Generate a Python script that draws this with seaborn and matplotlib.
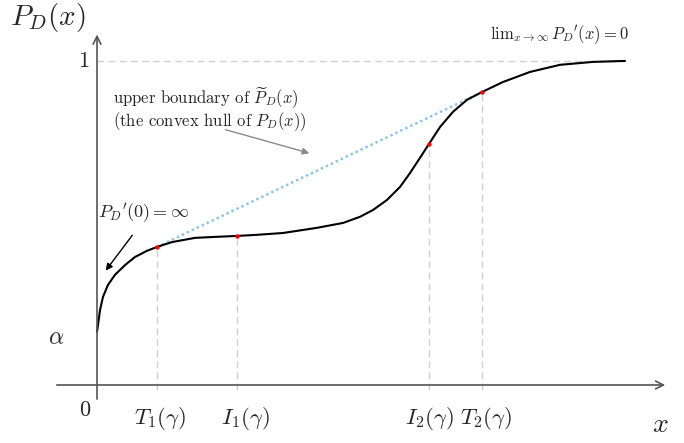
import matplotlib
matplotlib.use("Agg")
import matplotlib.pyplot as plt
import seaborn as sns
import pandas as pd

# ---- data (schematic units) ----
curve_x = [0.00, 0.01, 0.03, 0.06, 0.11, 0.18, 0.28, 0.38, 0.50, 0.60, 0.75, 0.98,
           1.18, 1.40, 1.58, 1.86, 2.20, 2.46, 2.63, 2.76, 2.90, 3.03, 3.13, 3.23,
           3.32, 3.43, 3.56, 3.70, 3.85, 4.06, 4.33, 4.63, 4.96, 5.28]
curve_y = [0.164, 0.185, 0.231, 0.272, 0.309, 0.340, 0.370, 0.395, 0.414, 0.426, 0.441, 0.454,
           0.457, 0.460, 0.463, 0.469, 0.485, 0.500, 0.519, 0.540, 0.571, 0.611, 0.654, 0.701,
           0.744, 0.796, 0.843, 0.880, 0.904, 0.935, 0.966, 0.988, 0.997, 1.000]

key_names = ["$T_1(\\gamma)$", "$I_1(\\gamma)$", "$I_2(\\gamma)$", "$T_2(\\gamma)$"]
key_x = [0.60, 1.40, 3.32, 3.85]
key_y = [0.426, 0.460, 0.744, 0.904]

hull_x = [0.60, 3.85]
hull_y = [0.426, 0.904]

alpha_val = 0.164
one_val = 1.0

sns.set_theme(style="white")
plt.rcParams["mathtext.fontset"] = "cm"
plt.rcParams["font.family"] = ["cmr10", "DejaVu Serif"]
plt.rcParams["axes.unicode_minus"] = False

fig = plt.figure(figsize=(6.84, 4.43), dpi=100)
ax = fig.add_axes([0, 0, 1, 1])

gridc = "#d0d0d0"
# guide lines
ax.plot([0, curve_x[-1]], [one_val, one_val], color=gridc, lw=1.0, ls=(0, (5, 3)), zorder=1)
for kx, ky in zip(key_x, key_y):
    ax.plot([kx, kx], [-0.015, ky], color=gridc, lw=1.0, ls=(0, (5, 3)), zorder=1)

# hull (tangent) line
hull_df = pd.DataFrame({"x": hull_x, "y": hull_y})
sns.lineplot(data=hull_df, x="x", y="y", ax=ax, color="#8cc4ea", lw=1.8,
             linestyle=(0, (1, 1.2)), zorder=2)

# main curve
curve_df = pd.DataFrame({"x": curve_x, "y": curve_y})
sns.lineplot(data=curve_df, x="x", y="y", ax=ax, color="black", lw=1.5, sort=False, zorder=3)

# key points
key_df = pd.DataFrame({"x": key_x, "y": key_y})
sns.scatterplot(data=key_df, x="x", y="y", ax=ax, color="red", s=10, linewidth=0, zorder=4)

ax.set_xlim(-0.97, 5.87)
ax.set_ylim(-0.179, 1.188)
ax.axis("off")

# axes arrows
axc = "#555555"
ax.annotate("", xy=(5.71, 0), xytext=(-0.43, 0),
            arrowprops=dict(arrowstyle="->", color=axc, lw=1.2, mutation_scale=14))
ax.annotate("", xy=(0, 1.090), xytext=(0, -0.052),
            arrowprops=dict(arrowstyle="->", color=axc, lw=1.2, mutation_scale=14))

# texts
ax.text(-0.87, 1.133, "$P_D(x)$", fontsize=21, ha="left", va="center")
ax.text(-0.08, one_val, "1", fontsize=16, ha="right", va="center")
ax.text(-0.33, 0.145, "$\\alpha$", fontsize=17, ha="right", va="center")
ax.text(-0.07, -0.077, "0", fontsize=16, ha="right", va="center")
ax.text(5.63, -0.123, "$x$", fontsize=20, ha="center", va="center")
offs = [0.03, 0.08, 0.0, 0.04]
for name, kx, o in zip(key_names, key_x, offs):
    ax.text(kx + o, -0.102, name, fontsize=16.5, ha="center", va="center")

ax.text(0.16, 0.888, "upper boundary of $\\widetilde{P}_D(x)$", fontsize=12,
        ha="left", va="center")
ax.text(0.16, 0.813, "(the convex hull of $P_D(x)$)", fontsize=12,
        ha="left", va="center")
ax.annotate("", xy=(2.15, 0.713), xytext=(1.26, 0.790),
            arrowprops=dict(arrowstyle="-|>", color="#8a8a8a", lw=1.0, mutation_scale=10))

ax.text(0.01, 0.531, "$P_D{}'(0) = \\infty$", fontsize=13, ha="left", va="center")
ax.annotate("", xy=(0.07, 0.346), xytext=(0.37, 0.469),
            arrowprops=dict(arrowstyle="-|>", color="black", lw=1.0, mutation_scale=10))

ax.text(3.93, 1.080, "$\\mathrm{lim}_{x\\to\\infty}\\, P_D{}'(x) = 0$", fontsize=12,
        ha="left", va="center")

fig.savefig("out.png", dpi=100)
